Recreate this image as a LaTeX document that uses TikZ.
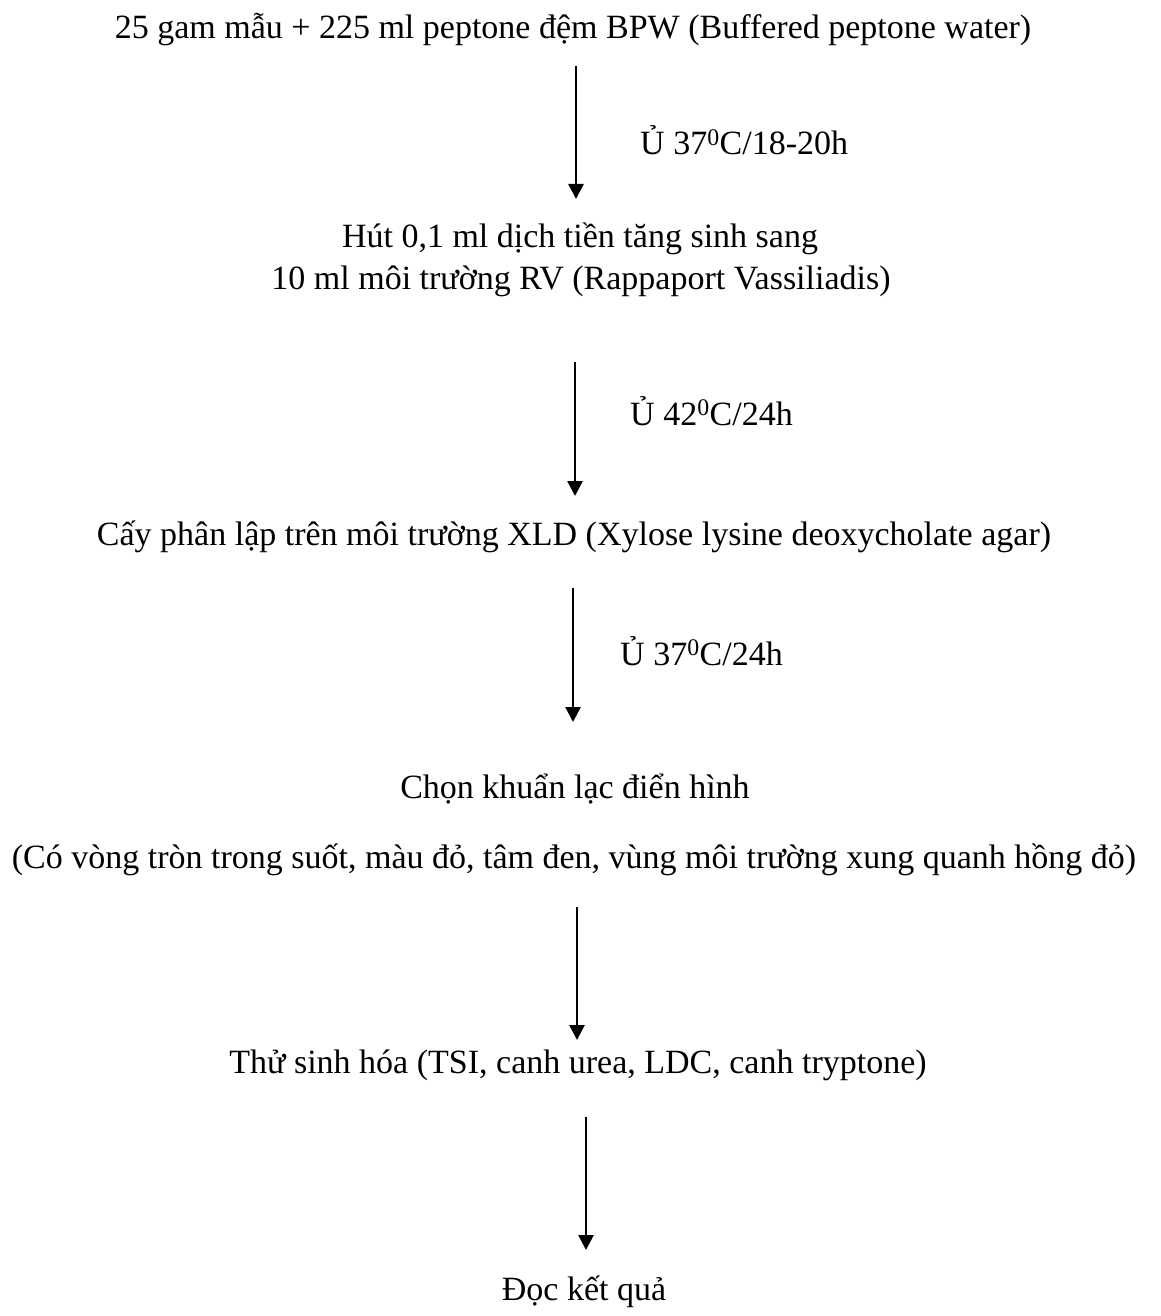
\documentclass[tikz,border=0pt]{standalone}
\usepackage{fontspec}
\setmainfont{Liberation Serif}
\usetikzlibrary{arrows.meta}
\begin{document}
\begin{tikzpicture}[x=1pt,y=-1pt,
  txt/.style={anchor=base,inner sep=0pt,font=\fontsize{34}{40}\selectfont},
  lbl/.style={anchor=base west,inner sep=0pt,font=\fontsize{34}{40}\selectfont},
  arr/.style={line width=2.6pt,-{Triangle[length=15pt,width=15pt]}}]
\useasboundingbox[fill=white] (0,0) rectangle (1160,1316);
\node[txt] (n1) at (573,39) {25 gam mẫu + 225 ml peptone đệm BPW (Buffered peptone water)};
\node[txt] (n2) at (580,247) {Hút 0,1 ml dịch tiền tăng sinh sang};
\node[txt] (n3) at (581,289) {10 ml môi trường RV (Rappaport Vassiliadis)};
\node[txt] (n4) at (574,545) {Cấy phân lập trên môi trường XLD (Xylose lysine deoxycholate agar)};
\node[txt] (n5) at (575,798) {Chọn khuẩn lạc điển hình};
\node[txt] (n6) at (574,868) {(Có vòng tròn trong suốt, màu đỏ, tâm đen, vùng môi trường xung quanh hồng đỏ)};
\node[txt] (n7) at (578,1073) {Thử sinh hóa (TSI, canh urea, LDC, canh tryptone)};
\node[txt] (n8) at (584,1300) {Đọc kết quả};
\node[lbl] (l1) at (640,155) {Ủ 37\textsuperscript{0}C/18-20h};
\node[lbl] (l2) at (630,425) {Ủ 42\textsuperscript{0}C/24h};
\node[lbl] (l3) at (620,665) {Ủ 37\textsuperscript{0}C/24h};
\coordinate (a1s) at (576,66);  \coordinate (a1e) at (576,199);
\coordinate (a2s) at (575,362); \coordinate (a2e) at (575,496);
\coordinate (a3s) at (573,588); \coordinate (a3e) at (573,722);
\coordinate (a4s) at (577,907); \coordinate (a4e) at (577,1040);
\coordinate (a5s) at (586,1117); \coordinate (a5e) at (586,1250);
\draw[arr] (a1s) -- (a1e);
\draw[arr] (a2s) -- (a2e);
\draw[arr] (a3s) -- (a3e);
\draw[arr] (a4s) -- (a4e);
\draw[arr] (a5s) -- (a5e);
\end{tikzpicture}
\end{document}
